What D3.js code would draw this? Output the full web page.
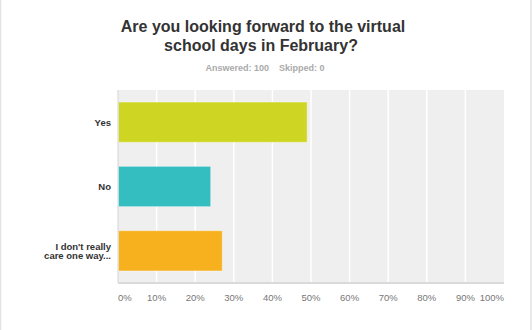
<!DOCTYPE html>
<html lang="en">
<head>
    <meta charset="UTF-8">
    <title>Survey chart</title>
    <script src="https://d3js.org/d3.v7.min.js"></script>
    <style>
        html, body { margin: 0; padding: 0; background: #fff; }
        body { font-family: "Liberation Sans", Arial, sans-serif; }
        .tick-label { font-size: 9.5px; fill: #777; }
        .cat-label { font-size: 9.5px; font-weight: bold; fill: #333; }
    </style>
</head>
<body>
    <div id="chart"></div>

    <script>
        // data
        const categories = ["Yes", "No", "I don't really care one way..."];
        const categoryLines = [["Yes"], ["No"], ["I don't really", "care one way..."]];
        const percents = [49, 24, 27];
        const colors = ["#cfd523", "#34bec0", "#f7b11f"];
        const ticks = [0, 10, 20, 30, 40, 50, 60, 70, 80, 90, 100];

        const W = 532, H = 330;
        const margin = {top: 90, right: 28, bottom: 47, left: 118};
        const width = W - margin.left - margin.right;
        const height = H - margin.top - margin.bottom;

        const svg = d3.select("#chart").append("svg")
            .attr("width", W)
            .attr("height", H);

        // outer frame lines
        svg.append("line").attr("x1", 0.5).attr("x2", 0.5).attr("y1", 0).attr("y2", H)
            .attr("stroke", "#e2e2e2").attr("stroke-width", 1.5);
        svg.append("line").attr("x1", 531).attr("x2", 531).attr("y1", 0).attr("y2", H)
            .attr("stroke", "#e2e2e2").attr("stroke-width", 1.5);

        // title
        const title = svg.append("text")
            .attr("text-anchor", "middle")
            .attr("font-size", "16px")
            .attr("font-weight", "bold")
            .attr("fill", "#333");
        title.append("tspan").attr("x", 263).attr("y", 32).text("Are you looking forward to the virtual");
        title.append("tspan").attr("x", 261).attr("y", 51).text("school days in February?");

        svg.append("text")
            .attr("x", 265).attr("y", 71)
            .attr("text-anchor", "middle")
            .attr("font-size", "9px")
            .attr("font-weight", "bold")
            .attr("fill", "#aaa")
            .attr("xml:space", "preserve")
            .text("Answered: 100    Skipped: 0");

        const g = svg.append("g")
            .attr("transform", "translate(" + margin.left + "," + margin.top + ")");

        const x = d3.scaleLinear().domain([0, 100]).range([0, width]);
        const y = d3.scaleBand().domain(categories).range([0, height]).paddingInner(0.375).paddingOuter(0.1875);

        g.append("rect")
            .attr("width", width)
            .attr("height", height)
            .attr("fill", "#efefef");

        // vertical grid
        g.selectAll(".grid")
            .data(ticks.slice(1, -1))
            .enter().append("line")
            .attr("class", "grid")
            .attr("x1", d => x(d)).attr("x2", d => x(d))
            .attr("y1", 0).attr("y2", height)
            .attr("stroke", "#fff")
            .attr("stroke-width", 1.5);

        // bars
        g.selectAll(".bar")
            .data(categories)
            .enter().append("rect")
            .attr("class", "bar")
            .attr("x", 0.5)
            .attr("y", d => y(d))
            .attr("width", (d, i) => x(percents[i]) - 0.5)
            .attr("height", y.bandwidth())
            .attr("fill", (d, i) => colors[i])
            .attr("stroke", "rgba(255,255,255,0.35)")
            .attr("stroke-width", 1);

        // axis lines
        g.append("line").attr("x1", 0).attr("x2", 0).attr("y1", 0).attr("y2", height)
            .attr("stroke", "#d4d4d4").attr("stroke-width", 1);
        g.append("line").attr("x1", 0).attr("x2", width).attr("y1", height).attr("y2", height)
            .attr("stroke", "#dadada").attr("stroke-width", 2);

        // x tick labels
        g.selectAll(".tick-label")
            .data(ticks)
            .enter().append("text")
            .attr("class", "tick-label")
            .attr("x", d => x(d))
            .attr("y", height + 18)
            .attr("text-anchor", (d, i) => i === 0 ? "start" : (i === ticks.length - 1 ? "end" : "middle"))
            .text(d => d + "%");

        // category labels
        const cat = g.selectAll(".cat-label")
            .data(categories)
            .enter().append("text")
            .attr("class", "cat-label")
            .attr("text-anchor", "end");
        cat.each(function(d, i) {
            const lines = categoryLines[i];
            const cy = y(d) + y.bandwidth() / 2;
            const lh = 9.5;
            lines.forEach((t, j) => {
                d3.select(this).append("tspan")
                    .attr("x", -7)
                    .attr("y", cy + 3.5 + (j - (lines.length - 1) / 2) * lh)
                    .text(t);
            });
        });
    </script>
</body>
</html>
